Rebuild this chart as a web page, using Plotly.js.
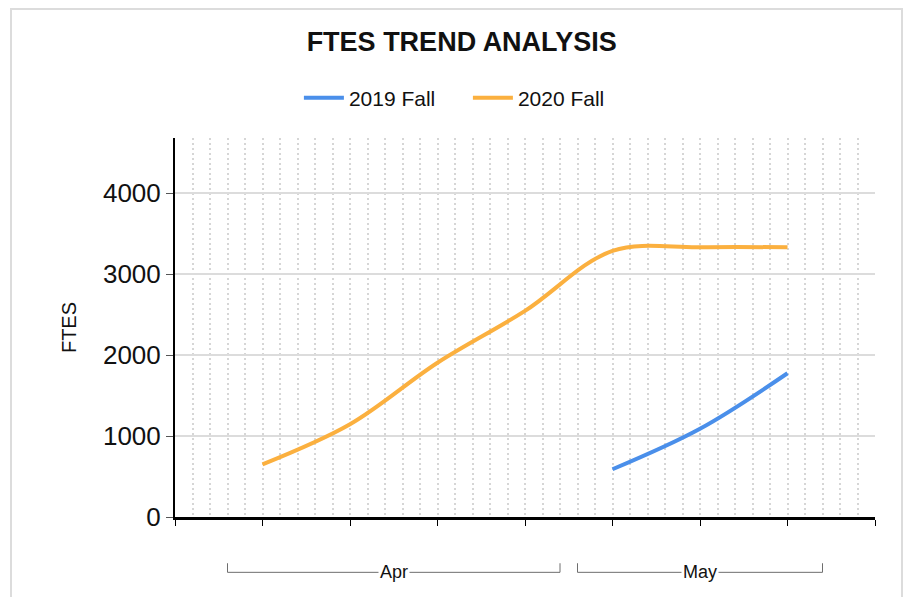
<!DOCTYPE html>
<html>
<head>
<meta charset="utf-8">
<script src="https://cdn.plot.ly/plotly-3.0.1.min.js"></script>
<style>
html,body{margin:0;padding:0;background:#fff;}
#frame{position:absolute;left:10px;top:8px;width:893px;height:600px;border:2px solid #dcdcdc;box-sizing:border-box;}
#chart{position:absolute;left:0;top:0;width:907px;height:597px;}
</style>
</head>
<body>
<div id="frame"></div>
<div id="chart"></div>
<script>
// Data
const periods = ['P1','P2','P3','P4','P5','P6','P7'];
const months  = ['Apr','Apr','Apr','Apr','May','May','May'];
const fall2019 = [null, null, null, null, 590, 1090, 1775];
const fall2020 = [650, 1145, 1905, 2545, 3285, 3330, 3330];
const seriesNames = ['2019 Fall', '2020 Fall'];
const seriesColors = ['#4a8fea', '#fbb03f'];

const xIdx = periods.map((_, i) => i);

const traces = [fall2019, fall2020].map((vals, k) => ({
  type: 'scatter', mode: 'lines', name: seriesNames[k],
  x: xIdx, y: vals,
  line: {color: seriesColors[k], width: 4, shape: 'spline', smoothing: 1},
  connectgaps: false, hoverinfo: 'skip'
}));

// month groups for bracket labels
const groups = [];
months.forEach((m, i) => {
  const g = groups[groups.length - 1];
  if (g && g.name === m) g.end = i; else groups.push({name: m, start: i, end: i});
});
const shapes = [];
const annotations = [];
const yLine = -0.146, yTop = -0.122;
groups.forEach(g => {
  const x0 = g.start - 0.4, x1 = g.end + 0.4;
  shapes.push({type: 'path', xref: 'x', yref: 'paper',
    path: `M ${x0},${yTop} L ${x0},${yLine} L ${x1},${yLine} L ${x1},${yTop}`,
    line: {color: '#6e6e6e', width: 1}});
  annotations.push({xref: 'x', yref: 'paper', x: (x0 + x1) / 2, y: yLine,
    text: g.name, showarrow: false, bgcolor: '#fff', borderpad: 1,
    font: {family: 'Liberation Sans, Arial, sans-serif', size: 18, color: '#111'},
    xanchor: 'center', yanchor: 'middle'});
});

const tickv = [];
for (let i = -1; i <= periods.length; i++) tickv.push(i);

const layout = {
  width: 907, height: 597,
  margin: {l: 175, r: 32, t: 138, b: 80},
  paper_bgcolor: 'rgba(0,0,0,0)', plot_bgcolor: 'rgba(0,0,0,0)',
  font: {family: 'Liberation Sans, Arial, sans-serif', color: '#111'},
  title: {text: '<b>FTES TREND ANALYSIS</b>', font: {size: 27, color: '#111'},
    xref: 'container', yref: 'container', x: 0.509, y: 0.93, xanchor: 'center', yanchor: 'middle'},
  showlegend: true,
  legend: {orientation: 'h', x: 0.177, y: 1.105, xanchor: 'left', yanchor: 'middle',
    font: {size: 21, color: '#111'}, itemwidth: 40, entrywidth: 114, bgcolor: 'rgba(0,0,0,0)'},
  xaxis: {
    range: [-1, periods.length], tickvals: tickv, ticktext: tickv.map(() => ''),
    showline: true, linecolor: '#000', linewidth: 3,
    ticks: 'outside', ticklen: 6, tickcolor: '#000', tickwidth: 1,
    showgrid: true, gridcolor: '#d6d6d6', griddash: '2px,3px', gridwidth: 2,
    minor: {dtick: 0.2, tick0: -1, showgrid: true, gridcolor: '#d6d6d6', griddash: '2px,3px', gridwidth: 2},
    zeroline: false, fixedrange: true
  },
  yaxis: {
    range: [0, 4680], tickvals: [0, 1000, 2000, 3000, 4000],
    showline: true, linecolor: '#000', linewidth: 2,
    ticks: 'outside', ticklen: 7, tickcolor: '#555',
    tickfont: {size: 26, color: '#111'},
    showgrid: true, gridcolor: '#dcdcdc', gridwidth: 2,
    zeroline: false,
    title: {text: 'FTES', font: {size: 20, color: '#111'}, standoff: 21},
    fixedrange: true
  },
  shapes: shapes,
  annotations: annotations
};

Plotly.newPlot('chart', traces, layout, {displayModeBar: false, staticPlot: true});
</script>
</body>
</html>
